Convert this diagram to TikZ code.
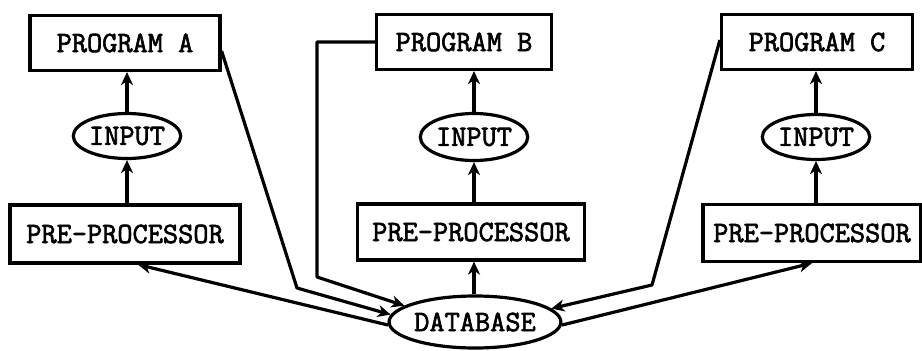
\documentclass[tikz,border=0pt]{standalone}
\usepackage{fontspec}
\newfontfamily\labelfont[FakeBold=2.2]{Latin Modern Mono}
\usetikzlibrary{arrows.meta,shapes.geometric,calc}
\begin{document}
\begin{tikzpicture}[x=1pt,y=-1pt,
  every node/.style={font=\labelfont\fontsize{29.5}{29.5}\selectfont, inner sep=0pt, line width=3.2pt, draw},
  box/.style={rectangle, minimum height=55pt},
  oval/.style={ellipse},
  link/.style={line width=3.2pt, line join=round},
  arr/.style={link, -{Stealth[length=13pt,width=12pt,inset=4pt]}}]
\useasboundingbox (0,0) rectangle (922,351);

% programs
\node[box, minimum width=190pt] (progA) at (125,43) {PROGRAM A};
\node[box, minimum width=175pt] (progB) at (464,42) {PROGRAM B};
\node[box, minimum width=191pt] (progC) at (817,42) {PROGRAM C};

% inputs
\node[oval, minimum width=95pt, minimum height=45pt] (inA) at (127,136) {INPUT};
\node[oval, minimum width=97pt, minimum height=47pt] (inB) at (474,137) {INPUT};
\node[oval, minimum width=93pt, minimum height=45pt] (inC) at (816,137) {INPUT};

% pre-processors
\node[box, minimum width=230pt, minimum height=58pt] (preA) at (125,234) {PRE-PROCESSOR};
\node[box, minimum width=227pt, minimum height=56pt] (preB) at (471,232) {PRE-PROCESSOR};
\node[box, minimum width=218pt, minimum height=57pt] (preC) at (812,233) {PRE-PROCESSOR};

% database
\node[oval, minimum width=162pt, minimum height=52pt] (db) at (475,322) {DATABASE};

% bends of the program-to-database lines
\coordinate (aBend) at (297,288);
\coordinate (bCorner) at (317,277);
\coordinate (cBend) at (652,285);

% vertical flow within each column
\draw[arr] (inA.north) -- (inA.north |- progA.south);
\draw[arr] (preA.north -| inA.south) -- (inA.south);
\draw[arr] (inB.north) -- (inB.north |- progB.south);
\draw[arr] (preB.north -| inB.south) -- (inB.south);
\draw[arr] (inC.north) -- (inC.north |- progC.south);
\draw[arr] (preC.north -| inC.south) -- (inC.south);
\draw[arr] (db.north -| inB.south) -- (inB.south |- preB.south);

% program outputs into the database
\draw[arr] ([yshift=-8pt]progA.east) -- (aBend) -- (db.175);
\draw[arr] (progB.west) -| (bCorner) -- (db.167);
\draw[arr] ([yshift=2pt]progC.west) -- (cBend) -- (db.10);

% database feeding the pre-processors
\draw[arr] (db.182) -- ([xshift=13pt]preA.south);
\draw[arr] (db.358) -- (preC.south);
\end{tikzpicture}
\end{document}
